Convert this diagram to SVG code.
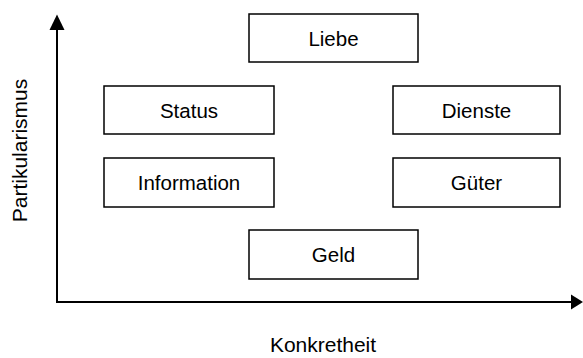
<svg xmlns="http://www.w3.org/2000/svg" width="583" height="358" viewBox="0 0 583 358">
  <style>
    .box { fill: #ffffff; stroke: #000000; stroke-width: 1.5; }
    .lbl { font-family: "Liberation Sans", Arial, sans-serif; font-size: 20.5px; fill: #000000; text-anchor: middle; dominant-baseline: central; }
    .axlbl { font-family: "Liberation Sans", Arial, sans-serif; font-size: 21px; fill: #000000; text-anchor: middle; }
    .axis { stroke: #000000; stroke-width: 2; fill: none; }
    .head { fill: #000000; }
  </style>
  <rect width="583" height="358" fill="#ffffff"/>

  <!-- axes with filled arrowheads -->
  <g id="connectors">
    <path class="axis" d="M57,303 L57,29"/>
    <path class="head" d="M49.5,30 L57,14.5 L64.5,30 Z"/>
    <path class="axis" d="M56,302 L572,302"/>
    <path class="head" d="M571,294.5 L583,302 L571,309.5 Z"/>
  </g>

  <g id="axis-y-label">
    <text class="axlbl" transform="translate(27,150.5) rotate(-90)">Partikularismus</text>
  </g>
  <g id="axis-x-label">
    <text class="axlbl" x="323" y="352">Konkretheit</text>
  </g>

  <g id="liebe">
    <rect class="box" x="249" y="14" width="169" height="48"/>
    <text class="lbl" x="333.5" y="38">Liebe</text>
  </g>
  <g id="status">
    <rect class="box" x="104" y="86" width="170" height="48"/>
    <text class="lbl" x="189" y="110">Status</text>
  </g>
  <g id="dienste">
    <rect class="box" x="393" y="86" width="167" height="48"/>
    <text class="lbl" x="476.5" y="110">Dienste</text>
  </g>
  <g id="information">
    <rect class="box" x="104" y="158" width="170" height="49"/>
    <text class="lbl" x="189" y="182.5">Information</text>
  </g>
  <g id="gueter">
    <rect class="box" x="393" y="158" width="167" height="49"/>
    <text class="lbl" x="476.5" y="182.5">Güter</text>
  </g>
  <g id="geld">
    <rect class="box" x="249" y="230" width="169" height="49"/>
    <text class="lbl" x="333.5" y="254.5">Geld</text>
  </g>
</svg>
